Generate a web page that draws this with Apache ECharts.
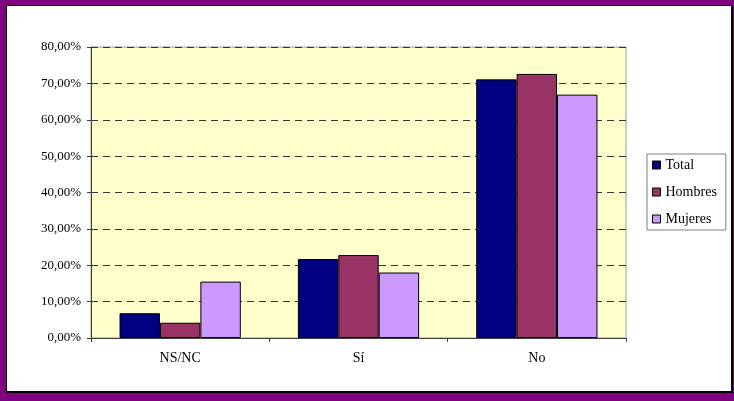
<!DOCTYPE html>
<html>
<head>
<meta charset="utf-8">
<script src="https://cdn.jsdelivr.net/npm/echarts@6/dist/echarts.min.js"></script>
<style>
body { margin: 0; }
#frame {
    position: absolute; left: 0; top: 0;
    width: 734px; height: 401px;
    background-color: #800080;
}
#paper {
    position: absolute; left: 6px; top: 5px;
    width: 724px; height: 385px;
    background-color: white;
    border: 1px solid #000;
    border-right-width: 2px;
    border-bottom-width: 2px;
}
#chart {
    position: absolute; left: 0; top: 0;
    width: 734px; height: 401px;
}
</style>
</head>
<body>
<div id="frame"><div id="paper"></div></div>
<div id="chart"></div>
<script>
var categories = ['NS/NC', 'Sí', 'No'];
var seriesNames = ['Total', 'Hombres', 'Mujeres'];
var total = [6.8, 21.7, 71.1];
var hombres = [4.2, 22.8, 72.6];
var mujeres = [15.5, 18.0, 66.9];
var colors = ['#000080', '#993366', '#CC99FF'];

var chart = echarts.init(document.getElementById('chart'));
var font = 'Liberation Serif';

function makeSeries(name, data, color) {
    return {
        name: name,
        type: 'bar',
        data: data,
        barGap: '0%',
        barCategoryGap: '32%',
        itemStyle: {
            color: color,
            borderColor: '#000',
            borderWidth: 1
        }
    };
}

var option = {
    animation: false,
    backgroundColor: 'transparent',
    grid: {
        left: 91,
        right: 108,
        top: 47,
        bottom: 63,
        show: true,
        backgroundColor: '#FFFFCC',
        borderColor: '#999999',
        borderWidth: 1
    },
    legend: {
        orient: 'vertical',
        left: 647,
        top: 154,
        data: seriesNames,
        icon: 'rect',
        itemWidth: 8,
        itemHeight: 8,
        itemGap: 13,
        itemTextGap: 1,
        padding: [4, 9, 4, 5],
        borderColor: '#808080',
        borderWidth: 1,
        backgroundColor: '#fff',
        textStyle: {
            fontFamily: font,
            fontSize: 14,
            lineHeight: 14,
            color: '#000'
        },
        itemStyle: {
            borderColor: '#000',
            borderWidth: 1
        }
    },
    xAxis: {
        type: 'category',
        data: categories,
        axisLine: { lineStyle: { color: '#404040', width: 1 } },
        axisTick: { show: true, length: 4, lineStyle: { color: '#404040' } },
        axisLabel: {
            fontFamily: font,
            fontSize: 14,
            color: '#000',
            margin: 13
        }
    },
    yAxis: {
        type: 'value',
        min: 0,
        max: 80,
        interval: 10,
        axisLine: { show: true, lineStyle: { color: '#404040', width: 1 } },
        axisTick: { show: true, length: 4, lineStyle: { color: '#404040' } },
        splitLine: {
            lineStyle: { color: '#333', type: [7, 5], width: 1 }
        },
        axisLabel: {
            fontFamily: font,
            fontSize: 13,
            color: '#000',
            margin: 10,
            formatter: function (v) {
                return v.toFixed(2).replace('.', ',') + '%';
            }
        }
    },
    series: [
        makeSeries(seriesNames[0], total, colors[0]),
        makeSeries(seriesNames[1], hombres, colors[1]),
        makeSeries(seriesNames[2], mujeres, colors[2])
    ]
};

chart.setOption(option);
</script>
</body>
</html>
